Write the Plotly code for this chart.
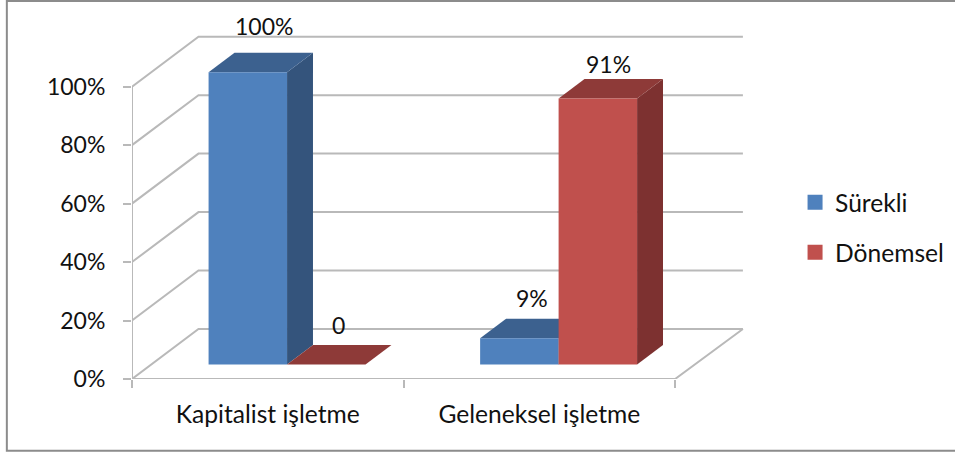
import plotly.graph_objects as go

categories = ["Kapitalist işletme", "Geleneksel işletme"]
series_names = ["Sürekli", "Dönemsel"]
surekli = [100, 9]
donemsel = [0, 91]
surekli_labels = ["100%", "9%"]
donemsel_labels = ["0", "91%"]
y_ticks = [0, 20, 40, 60, 80, 100]
y_tick_labels = ["0%", "20%", "40%", "60%", "80%", "100%"]

FRONT_FACE = {"Sürekli": "#4F81BD", "Dönemsel": "#C0504D"}
TOP_FACE = {"Sürekli": "#3C618F", "Dönemsel": "#8E3A38"}
SIDE_FACE = {"Sürekli": "#34547C", "Dönemsel": "#7D3130"}
GRID = "#B9B9B9"
FONT = "Lato, Carlito, Calibri, sans-serif"
TEXT = "#111111"
FONT_SIZE = 23
WORD_SIZE = 24.6

W, H = 955, 452
LEFT, BASE = 131.7, 379.3           # pixel position of the axis origin
PX_PER_CAT, PX_PER_PCT = 271.65, 2.926
DX = 66.5 / PX_PER_CAT              # full depth of the floor in x units
DY = 50 / PX_PER_PCT                # full depth of the floor in y units
BAR_W = 78.5 / PX_PER_CAT
D0, D1 = 0.29, 0.68                 # bar depth span, fraction of the floor depth
X_RANGE = [0, (W - LEFT) / PX_PER_CAT]
Y_RANGE = [0, BASE / PX_PER_PCT]


def px(p):
    return (p - LEFT) / (W - LEFT)


def py(p):
    return 1 - p / BASE


fig = go.Figure()

# Walls and floor
gx, gy = [], []
for t in y_ticks:
    gx += [0, DX, len(categories) + DX * 1.02, None]
    gy += [t, t + DY, t + DY, None]
gx += [0, len(categories), len(categories) + DX * 1.02, None, 0, 0]
gy += [0, 0, DY, None, 0, 100]
fig.add_trace(go.Scatter(x=gx, y=gy, mode="lines", line=dict(color=GRID, width=2),
                         showlegend=False, hoverinfo="skip", cliponaxis=False))

series = [(series_names[0], surekli), (series_names[1], donemsel)]


def left_edge(cat, s):
    return cat + 0.5 + (s - 1) * BAR_W + D0 * DX


# Top and side faces (in the main subplot, under the front faces)
for s, (name, vals) in enumerate(series):
    for c, v in enumerate(vals):
        x0 = left_edge(c, s)
        x1 = x0 + BAR_W
        ox = (D1 - D0) * DX
        oy = (D1 - D0) * DY
        b = D0 * DY
        if v > 0:
            fig.add_trace(go.Scatter(
                x=[x1, x1 + ox, x1 + ox, x1, x1],
                y=[b, b + oy, b + oy + v, b + v, b],
                fill="toself", fillcolor=SIDE_FACE[name], mode="none",
                showlegend=False, hoverinfo="skip"))
        fig.add_trace(go.Scatter(
            x=[x0, x1, x1 + ox, x0 + ox, x0],
            y=[b + v, b + v, b + v + oy, b + v + oy, b + v],
            fill="toself", fillcolor=TOP_FACE[name], mode="none",
            showlegend=False, hoverinfo="skip"))

# Front faces as real bars, on an overlaid subplot so they cover the tops
for s, (name, vals) in enumerate(series):
    fig.add_trace(go.Bar(
        x=[left_edge(c, s) + BAR_W / 2 for c in range(len(vals))],
        y=vals, base=[D0 * DY] * len(vals), width=BAR_W,
        marker=dict(color=FRONT_FACE[name], line=dict(width=0)),
        xaxis="x2", yaxis="y2", showlegend=False,
        name=name, hovertemplate="%{y}%<extra>" + name + "</extra>"))

# Legend entries
for i, (name, _) in enumerate(series):
    fig.add_trace(go.Scatter(
        x=[None], y=[None], mode="markers", name=name, legendgroup=name,
        marker=dict(symbol="square", size=15, color=FRONT_FACE[name])))

# Value labels
label_shift = [[(3, 5), (0, -1)], [(-1, -2), (-2, -7)]]
for s, ((name, vals), labels) in enumerate(zip(series, [surekli_labels, donemsel_labels])):
    for c, (v, lab) in enumerate(zip(vals, labels)):
        fig.add_annotation(
            x=left_edge(c, s) + BAR_W / 2 + (D1 - D0) * DX / 2,
            y=D1 * DY + v, text=lab, showarrow=False,
            xanchor="center", yanchor="bottom",
            xshift=label_shift[s][c][0], yshift=label_shift[s][c][1] + 6,
            font=dict(family=FONT, size=FONT_SIZE, color=TEXT))

fig.update_layout(
    width=W, height=H, autosize=False,
    margin=dict(l=LEFT, r=0, t=0, b=H - BASE, pad=0),
    paper_bgcolor="white", plot_bgcolor="white",
    barmode="overlay",
    font=dict(family=FONT, size=FONT_SIZE, color=TEXT),
    xaxis=dict(range=X_RANGE, tickmode="array", tickvals=[0.5, 1.5], ticktext=categories,
               ticks="", showgrid=False, zeroline=False, showline=False,
               ticklabelstandoff=18, tickfont=dict(size=WORD_SIZE),
               minor=dict(tickmode="array", tickvals=[0, 1, 2], ticks="outside", ticklen=8,
                          tickwidth=2, tickcolor=GRID, showgrid=False)),
    yaxis=dict(range=Y_RANGE, tickmode="array", tickvals=y_ticks, ticktext=y_tick_labels,
               ticks="outside", ticklen=8, tickwidth=2, tickcolor=GRID,
               showgrid=False, zeroline=False, showline=False, ticklabelstandoff=13),
    xaxis2=dict(range=X_RANGE, overlaying="x", anchor="y2", visible=False),
    yaxis2=dict(range=Y_RANGE, overlaying="y", anchor="x2", visible=False),
    legend=dict(x=px(795), y=py(180), xanchor="left", yanchor="top",
                tracegroupgap=15, bgcolor="rgba(0,0,0,0)",
                font=dict(family=FONT, size=WORD_SIZE, color=TEXT)),
    shapes=[dict(type="rect", xref="paper", yref="paper",
                 x0=px(6.5), x1=px(975), y0=py(451), y1=py(1),
                 line=dict(color="#8C8C8C", width=2), layer="below")],
)

fig.write_html("out.html", config={"displayModeBar": False},
               post_script="document.body.style.margin='0';")
